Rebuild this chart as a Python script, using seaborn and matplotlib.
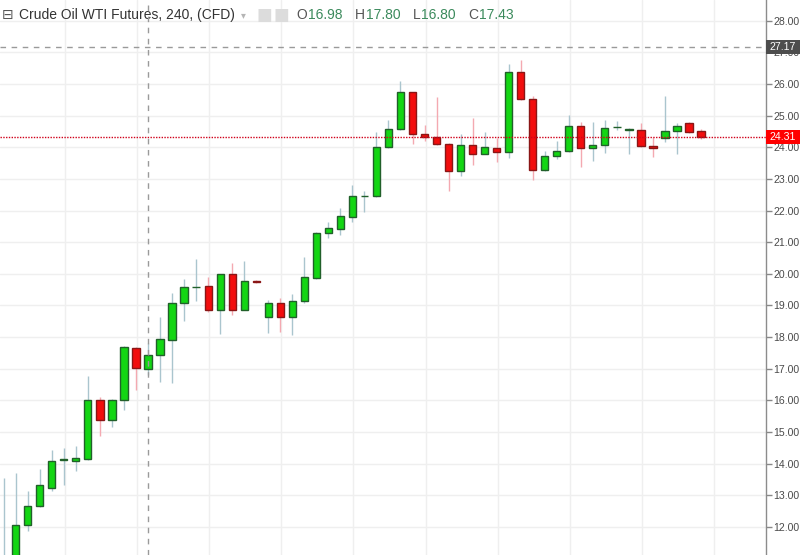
import numpy as np
import matplotlib
matplotlib.use("Agg")
import matplotlib.pyplot as plt
import matplotlib.transforms as mtransforms
from matplotlib.patches import Rectangle
import seaborn as sns

# 240 minute candles
opens = [10.90, 11.05, 12.06, 12.66, 13.23, 14.12, 14.07, 14.15, 16.00, 15.37,
         16.00, 17.65, 16.98, 17.42, 17.91, 19.07, 19.58, 19.61, 18.87, 19.99,
         18.87, 19.77, 18.63, 19.07, 18.63, 19.15, 19.87, 21.28, 21.43, 21.81,
         22.45, 22.46, 24.02, 24.58, 25.74, 24.43, 24.31, 24.09, 23.25, 24.07,
         23.80, 23.99, 23.86, 26.39, 25.52, 23.28, 23.71, 23.88, 24.67, 23.97,
         24.07, 24.63, 24.56, 24.56, 24.05, 24.28, 24.52, 24.76, 24.50]
highs = [13.55, 13.70, 13.14, 13.82, 14.43, 14.49, 14.56, 16.78, 16.11, 16.05,
         17.72, 17.68, 17.80, 18.64, 19.38, 19.83, 20.46, 19.89, 20.00, 20.35,
         20.41, 19.80, 19.17, 19.23, 19.36, 20.54, 21.32, 21.65, 22.09, 22.81,
         22.63, 24.49, 24.86, 26.09, 25.76, 24.70, 25.58, 24.12, 24.43, 24.92,
         24.47, 24.28, 26.63, 26.76, 25.62, 23.89, 24.21, 25.02, 24.81, 24.79,
         24.86, 24.84, 24.60, 24.78, 24.33, 25.62, 24.76, 24.81, 24.57]
lows = [10.70, 10.90, 11.88, 12.62, 13.15, 13.32, 13.77, 14.13, 14.87, 15.17,
        15.70, 16.33, 16.80, 16.59, 16.56, 18.51, 19.15, 18.80, 18.09, 18.70,
        18.85, 19.70, 18.12, 18.17, 18.07, 19.07, 19.85, 21.14, 21.23, 21.65,
        21.96, 22.44, 23.98, 24.55, 24.09, 24.21, 24.08, 22.62, 23.10, 23.44,
        23.78, 23.54, 23.65, 25.50, 22.97, 23.26, 23.63, 23.86, 23.39, 23.58,
        23.81, 24.55, 23.79, 24.02, 23.70, 24.18, 23.79, 24.45, 24.25]
closes = [11.00, 12.06, 12.66, 13.32, 14.07, 14.13, 14.19, 16.00, 15.37, 16.00,
          17.68, 17.01, 17.43, 17.93, 19.07, 19.57, 19.58, 18.87, 19.99, 18.87,
          19.76, 19.74, 19.07, 18.63, 19.15, 19.89, 21.30, 21.44, 21.83, 22.46,
          22.46, 24.02, 24.57, 25.74, 24.42, 24.31, 24.09, 23.25, 24.07, 23.80,
          24.00, 23.84, 26.39, 25.52, 23.28, 23.71, 23.88, 24.67, 23.97, 24.07,
          24.60, 24.63, 24.56, 24.04, 23.98, 24.50, 24.68, 24.47, 24.31]

price_ticks = list(range(12, 29))
last_price = 24.31
cross_price = 27.17
cross_bar = 12
title = "Crude Oil WTI Futures, 240, (CFD)"
ohlc_labels = ["O", "H", "L", "C"]
ohlc_values = ["16.98", "17.80", "16.80", "17.43"]

sns.set_style("white")
plt.rcParams["font.family"] = ["Liberation Sans", "DejaVu Sans"]

fig = plt.figure(figsize=(8, 5.55), dpi=100)
ax = fig.add_axes([0, 0, 766 / 800, 1])

x = np.arange(len(opens))
o = np.array(opens)
c = np.array(closes)
up = c >= o

# grid: every 6 bars and every dollar
for gx in range(5, len(opens) + 6, 6):
    ax.axvline(gx + 0.08, color="#efefef", lw=1, zorder=0)
for p in price_ticks:
    ax.axhline(p, color="#efefef", lw=1, zorder=0)

wick_col = np.where(up, "#aac5ce", "#f4a9b1")
ax.vlines(x, lows, highs, colors=wick_col, lw=1, zorder=2)

body = np.where(np.abs(c - o) < 0.012, 0.012, c - o)
ax.bar(x[up], body[up], bottom=o[up], width=0.6, color="#13d613",
       edgecolor="#21602a", lw=1, zorder=3)
ax.bar(x[~up], body[~up], bottom=o[~up], width=0.6, color="#f20d0d",
       edgecolor="#8a1616", lw=1, zorder=3)

# last price and crosshair
ax.axhline(last_price, color="#d0021b", lw=1, ls=(0, (1, 1)), zorder=4)
ax.axhline(cross_price, color="#9a9a9a", lw=1, ls=(0, (4, 4)), zorder=4)
ax.axvline(cross_bar, color="#9a9a9a", lw=1, ls=(0, (4, 4)), zorder=4)

ax.set_xlim(-0.31, 63.4)
ax.set_ylim(11.113, 28.654)
ax.set_xticks([])
ax.yaxis.tick_right()
ax.set_yticks(price_ticks)
ax.set_yticklabels([f"{p:.2f}" for p in price_ticks])
ax.tick_params(axis="y", right=True, length=4, width=1, color="#888888",
               labelsize=7.6, labelcolor="#4a4a4a", pad=1.5)
for side in ["top", "left", "bottom"]:
    ax.spines[side].set_visible(False)
ax.spines["right"].set_color("#8c8c8c")
ax.spines["right"].set_linewidth(1)

# price tags on the scale
trans = mtransforms.blended_transform_factory(ax.transAxes, ax.transData)
for val, fc in [(cross_price, "#4d4d4d"), (last_price, "#ff0000")]:
    ax.add_patch(Rectangle((1.0, val - 0.22), 34 / 766, 0.44, transform=trans,
                           fc=fc, ec="none", clip_on=False, zorder=9))
    ax.text(1.0 + 17 / 766, val, f"{val:.2f}", transform=trans, ha="center",
            va="center", color="white", fontsize=7.6, clip_on=False,
            zorder=10)

# legend header, each piece placed after the one before it
fy = 1 - 15 / 555
t = fig.text(2 / 800, fy, "\u229f", fontsize=10, color="#555555",
             va="center", family="DejaVu Sans")
t = ax.annotate(title, xy=(1, 0.5), xycoords=t, xytext=(4, 0),
                textcoords="offset points", fontsize=10, color="#333333",
                va="center", annotation_clip=False)
t = ax.annotate("\u25be", xy=(1, 0.5), xycoords=t, xytext=(4, 0),
                textcoords="offset points", fontsize=7, color="#b5b5b5",
                va="center", family="DejaVu Sans", annotation_clip=False)
for k in range(2):
    t = ax.annotate("\u25a0", xy=(1, 0.5), xycoords=t,
                    xytext=(8 if k == 0 else 1, 0), textcoords="offset points",
                    fontsize=12, color="#dcdcdc", va="center",
                    family="DejaVu Sans", annotation_clip=False)
gap = 5
for lab, val in zip(ohlc_labels, ohlc_values):
    t = ax.annotate(lab, xy=(1, 0.5), xycoords=t, xytext=(gap, 0),
                    textcoords="offset points", fontsize=10,
                    color="#555555", va="center", annotation_clip=False)
    t = ax.annotate(val, xy=(1, 0.5), xycoords=t, xytext=(0.5, 0),
                    textcoords="offset points", fontsize=10,
                    color="#3b8a5c", va="center", annotation_clip=False)
    gap = 9

fig.savefig("out.png", dpi=100, facecolor="white")
